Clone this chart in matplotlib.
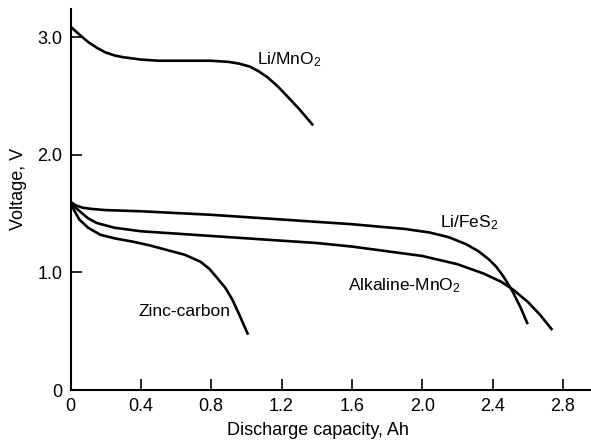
import matplotlib
matplotlib.use("Agg")
import matplotlib.pyplot as plt

plt.rcParams['font.family'] = ['Liberation Sans', 'DejaVu Sans']
plt.rcParams['mathtext.fontset'] = 'custom'
plt.rcParams['mathtext.rm'] = 'Liberation Sans'
plt.rcParams['mathtext.default'] = 'regular'

# Data
li_mno2_x = [0.0, 0.03, 0.06, 0.1, 0.15, 0.2, 0.25, 0.3, 0.4, 0.5, 0.6, 0.7, 0.8, 0.9, 0.96, 1.02, 1.07, 1.12, 1.18, 1.25, 1.3, 1.34, 1.38]
li_mno2_y = [3.09, 3.05, 3.01, 2.96, 2.91, 2.87, 2.845, 2.83, 2.81, 2.80, 2.80, 2.80, 2.80, 2.79, 2.775, 2.75, 2.71, 2.66, 2.58, 2.47, 2.39, 2.32, 2.25]

li_fes2_x = [0.0, 0.03, 0.07, 0.12, 0.2, 0.4, 0.8, 1.2, 1.6, 1.9, 2.04, 2.15, 2.25, 2.32, 2.38, 2.42, 2.46, 2.51, 2.56, 2.60]
li_fes2_y = [1.60, 1.57, 1.55, 1.54, 1.53, 1.52, 1.49, 1.45, 1.41, 1.37, 1.34, 1.30, 1.24, 1.18, 1.11, 1.05, 0.97, 0.85, 0.70, 0.56]

alk_x = [0.0, 0.03, 0.06, 0.1, 0.15, 0.25, 0.4, 0.6, 0.8, 1.0, 1.2, 1.4, 1.6, 1.8, 2.0, 2.2, 2.35, 2.45, 2.52, 2.6, 2.67, 2.74]
alk_y = [1.60, 1.55, 1.51, 1.46, 1.42, 1.38, 1.35, 1.33, 1.31, 1.29, 1.27, 1.25, 1.22, 1.18, 1.14, 1.07, 0.99, 0.92, 0.85, 0.75, 0.64, 0.51]

zinc_x = [0.0, 0.02, 0.05, 0.1, 0.17, 0.25, 0.36, 0.45, 0.55, 0.65, 0.74, 0.79, 0.83, 0.88, 0.92, 0.96, 1.01]
zinc_y = [1.60, 1.53, 1.45, 1.38, 1.32, 1.29, 1.26, 1.23, 1.19, 1.15, 1.09, 1.03, 0.96, 0.87, 0.77, 0.64, 0.47]

x_ticks = [0, 0.4, 0.8, 1.2, 1.6, 2.0, 2.4, 2.8]
x_tick_labels = ['0', '0.4', '0.8', '1.2', '1.6', '2.0', '2.4', '2.8']
y_ticks = [0, 1.0, 2.0, 3.0]
y_tick_labels = ['0', '1.0', '2.0', '3.0']

fig = plt.figure(figsize=(5.91, 4.41), dpi=100)
ax = fig.add_axes([0.1193, 0.1156, 0.8807, 0.864])

lw = 1.9
for xs, ys in [(li_mno2_x, li_mno2_y), (li_fes2_x, li_fes2_y), (alk_x, alk_y), (zinc_x, zinc_y)]:
    ax.plot(xs, ys, color='black', lw=lw, solid_capstyle='butt', solid_joinstyle='round')

ax.set_xlim(0, 2.96)
ax.set_ylim(0, 3.24)
ax.spines['top'].set_visible(False)
ax.spines['right'].set_visible(False)
ax.spines['left'].set_linewidth(1.5)
ax.spines['bottom'].set_linewidth(1.5)

ax.set_xticks(x_ticks)
ax.set_xticklabels(x_tick_labels, fontsize=13)
ax.set_yticks(y_ticks)
ax.set_yticklabels(y_tick_labels, fontsize=13)
ax.tick_params(direction='in', length=8, width=1.2, pad=6)

ax.set_xlabel('Discharge capacity, Ah', fontsize=13)
ax.set_ylabel('Voltage, V', fontsize=13)
ax.xaxis.set_label_coords(0.475, -0.085)
ax.yaxis.set_label_coords(-0.083, 0.528)

fs = 12.5
ax.text(1.06, 2.81, 'Li/MnO$_2$', fontsize=fs, va='center', ha='left')
ax.text(2.10, 1.42, 'Li/FeS$_2$', fontsize=fs, va='center', ha='left')
ax.text(1.58, 0.89, 'Alkaline-MnO$_2$', fontsize=fs, va='center', ha='left')
ax.text(0.385, 0.67, 'Zinc-carbon', fontsize=fs, va='center', ha='left')

fig.savefig('out.png', dpi=100)
